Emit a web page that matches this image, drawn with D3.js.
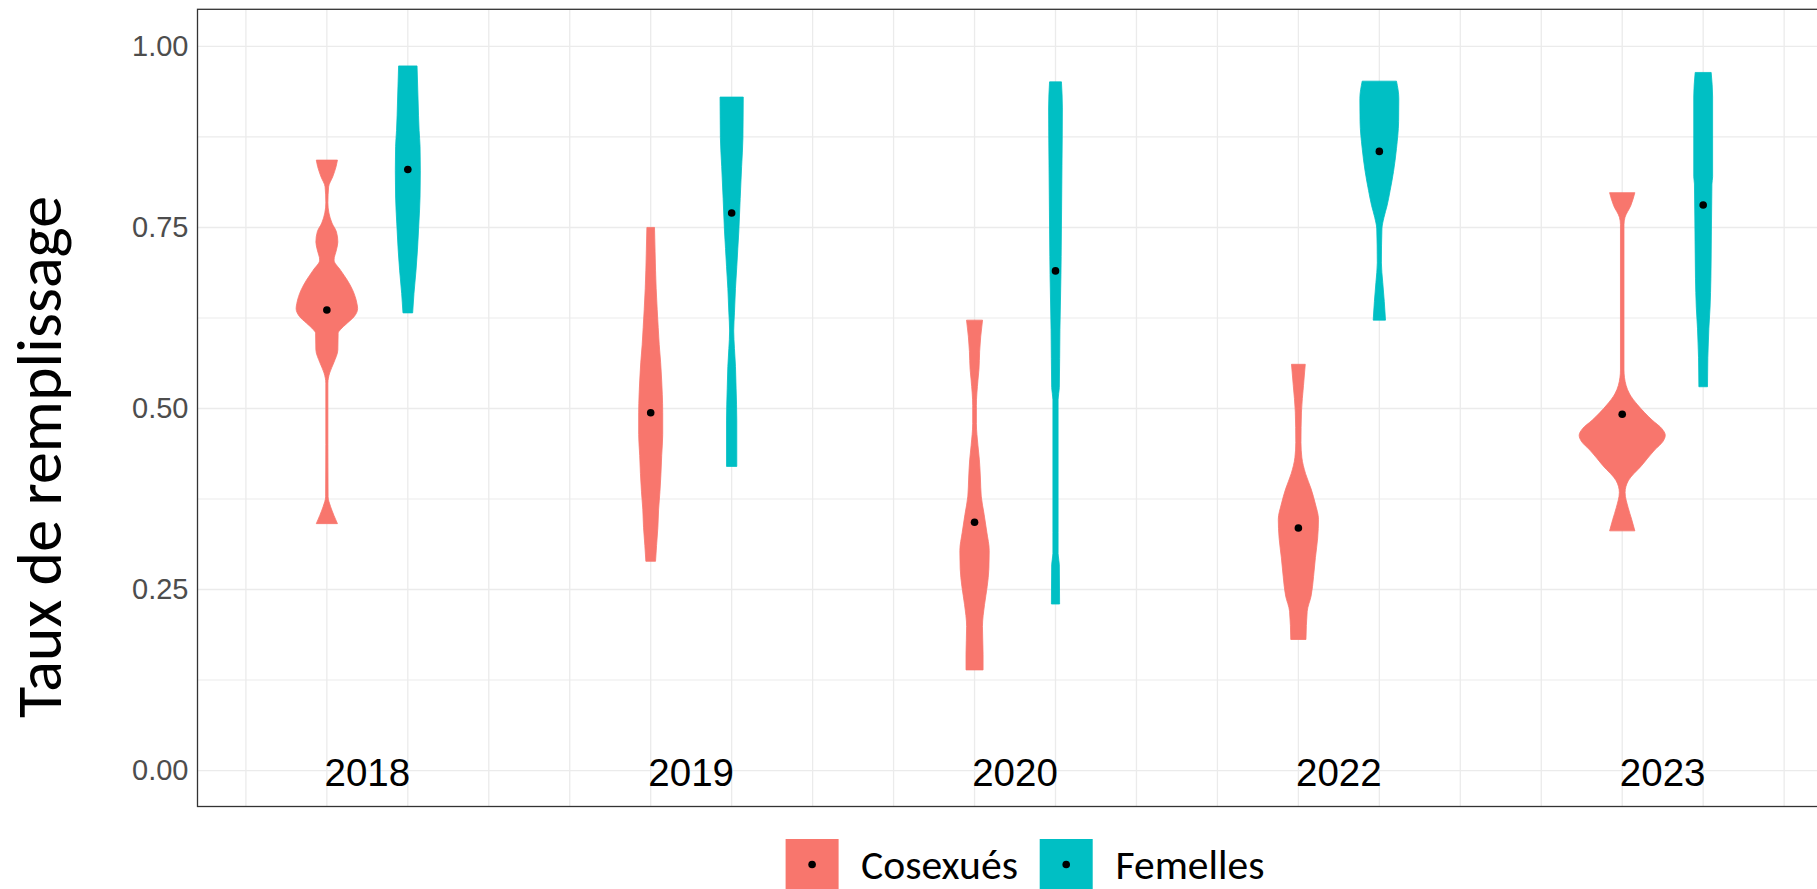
<!DOCTYPE html>
<html><head><meta charset="utf-8">
<script src="https://cdn.jsdelivr.net/npm/d3@7"></script>
<style>body{margin:0;background:#fff}</style>
</head><body>
<svg id="c" width="1817" height="889"></svg>
<script>
// ---- data ----
const years = ["2018", "2019", "2020", "2022", "2023"];
const groupNames = ["Cosexués", "Femelles"];
const groupColors = ["#F8766D", "#00BFC4"];
const meanCos = [0.636, 0.494, 0.343, 0.335, 0.492];
const meanFem = [0.830, 0.770, 0.690, 0.855, 0.781];
const yTicks = [0, 0.25, 0.5, 0.75, 1.0];
const yMinor = [0.125, 0.375, 0.625, 0.875];
// density profiles: [taux, densité]
const densCos2018 = [[0.341,2.58],[0.352,1.75],[0.365,0.88],[0.378,0.3],[0.45,0.25],[0.535,0.25],[0.549,0.68],[0.563,1.68],[0.581,2.68],[0.604,2.75],[0.609,3.33],[0.618,5.0],[0.627,6.68],[0.638,7.5],[0.645,7.33],[0.664,6.25],[0.677,5.0],[0.691,3.33],[0.705,1.75],[0.719,2.33],[0.730,2.68],[0.744,2.33],[0.756,1.25],[0.770,0.5],[0.784,0.25],[0.806,0.43],[0.820,1.43],[0.834,2.25],[0.843,2.58]];
const densFem2018 = [[0.632,1.18],[0.659,1.5],[0.691,2.0],[0.719,2.35],[0.756,2.7],[0.792,2.98],[0.829,3.05],[0.862,2.98],[0.884,2.75],[0.926,2.5],[0.973,2.25]];
const densCos2019 = [[0.289,1.18],[0.311,1.43],[0.336,1.75],[0.361,1.93],[0.385,2.25],[0.410,2.5],[0.435,2.68],[0.464,2.93],[0.494,2.93],[0.519,2.83],[0.538,2.68],[0.563,2.43],[0.588,2.08],[0.612,1.83],[0.637,1.58],[0.666,1.33],[0.691,1.18],[0.75,0.93]];
const densFem2019 = [[0.420,1.25],[0.484,1.25],[0.528,1.08],[0.558,0.93],[0.583,0.68],[0.607,0.5],[0.632,0.68],[0.666,0.93],[0.696,1.25],[0.721,1.5],[0.745,1.75],[0.790,2.08],[0.834,2.43],[0.874,2.75],[0.930,2.83]];
const densCos2020 = [[0.139,2.08],[0.16,2.08],[0.18,2.0],[0.199,1.93],[0.229,2.43],[0.254,3.08],[0.279,3.5],[0.304,3.58],[0.329,3.0],[0.354,2.33],[0.379,1.63],[0.404,1.43],[0.429,1.18],[0.449,0.83],[0.479,0.45],[0.504,0.45],[0.539,0.83],[0.554,1.08],[0.579,1.25],[0.599,1.5],[0.622,1.95]];
const densFem2020 = [[0.230,1.0],[0.284,0.93],[0.30,0.63],[0.329,0.63],[0.512,0.63],[0.529,0.93],[0.609,1.08],[0.685,1.33],[0.710,1.38],[0.835,1.58],[0.915,1.68],[0.951,1.45]];
const densCos2022 = [[0.181,1.85],[0.220,2.15],[0.241,3.1],[0.268,3.7],[0.294,4.15],[0.321,4.7],[0.347,4.9],[0.368,4.15],[0.389,3.1],[0.410,1.75],[0.432,0.85],[0.453,0.63],[0.495,0.75],[0.532,1.25],[0.561,1.68]];
const densFem2022 = [[0.622,1.5],[0.648,1.2],[0.674,0.83],[0.701,0.5],[0.748,0.63],[0.764,1.13],[0.780,1.88],[0.801,2.63],[0.827,3.45],[0.859,4.18],[0.896,4.7],[0.928,4.75],[0.952,4.18]];
const densCos2023 = [[0.331,3.08],[0.347,2.3],[0.363,1.45],[0.384,0.7],[0.400,1.45],[0.421,4.7],[0.442,7.8],[0.455,10.0],[0.463,10.5],[0.472,9.7],[0.484,7.3],[0.505,3.75],[0.520,1.8],[0.532,0.93],[0.553,0.43],[0.754,0.43],[0.764,0.68],[0.780,2.08],[0.798,3.08]];
const densFem2023 = [[0.530,1.05],[0.570,1.13],[0.610,1.38],[0.640,1.68],[0.680,1.88],[0.810,2.13],[0.820,2.3],[0.930,2.3],[0.964,1.95]];

const densCos = [densCos2018, densCos2019, densCos2020, densCos2022, densCos2023];
const densFem = [densFem2018, densFem2019, densFem2020, densFem2022, densFem2023];

// ---- layout ----
const svg = d3.select("#c");
svg.append("rect").attr("width", 1817).attr("height", 889).attr("fill", "#fff");
const P = {left: 197.5, top: 9.3, right: 1830, bottom: 806.5};
const x = d3.scaleLinear().domain([0, 19]).range([245.9, 245.9 + 19 * 80.96]);
const y = d3.scaleLinear().domain([-0.0496, 1.0512]).range([P.bottom, P.top]);
const w = d3.scaleLinear().domain([0, 10]).range([0, 41]);

svg.append("clipPath").attr("id", "pc").append("rect")
  .attr("x", P.left).attr("y", P.top).attr("width", P.right - P.left).attr("height", P.bottom - P.top);
const g = svg.append("g").attr("clip-path", "url(#pc)");

// grid
g.selectAll(".gm").data(yMinor).join("line")
  .attr("x1", P.left).attr("x2", P.right).attr("y1", d => y(d)).attr("y2", d => y(d))
  .attr("stroke", "#EBEBEB").attr("stroke-width", 1.1);
g.selectAll(".gM").data(yTicks).join("line")
  .attr("x1", P.left).attr("x2", P.right).attr("y1", d => y(d)).attr("y2", d => y(d))
  .attr("stroke", "#EBEBEB").attr("stroke-width", 1.4);
g.selectAll(".gv").data(d3.range(0, 20)).join("line")
  .attr("y1", P.top).attr("y2", P.bottom).attr("x1", d => x(d)).attr("x2", d => x(d))
  .attr("stroke", "#EBEBEB").attr("stroke-width", 1.3);

// violins
years.forEach((yr, i) => {
  [densCos[i], densFem[i]].forEach((dens, k) => {
    const cx = x(4 * i + 1 + k);
    const area = d3.area().curve(d3.curveMonotoneY)
      .y(d => y(d[0])).x0(d => cx - w(d[1])).x1(d => cx + w(d[1]));
    g.append("path").datum(dens).attr("d", area)
      .attr("fill", groupColors[k]).attr("stroke", groupColors[k]).attr("stroke-width", 0.8);
  });
});
// mean points
years.forEach((yr, i) => {
  [meanCos[i], meanFem[i]].forEach((m, k) => {
    g.append("circle").attr("cx", x(4 * i + 1 + k)).attr("cy", y(m)).attr("r", 3.8).attr("fill", "#000");
  });
});
// year labels
g.selectAll(".yl").data(years).join("text")
  .attr("x", (d, i) => x(4 * i + 1.5)).attr("y", y(0)).attr("dy", "0.41em")
  .attr("text-anchor", "middle").attr("font-family", "'Liberation Sans', Arial, sans-serif")
  .attr("font-size", 38.5).attr("fill", "#000").text(d => d);

// panel border
svg.append("rect").attr("x", P.left).attr("y", P.top).attr("width", P.right - P.left).attr("height", P.bottom - P.top)
  .attr("fill", "none").attr("stroke", "#333333").attr("stroke-width", 1.3);

// y axis
const ax = svg.append("g").attr("transform", `translate(${P.left},0)`)
  .call(d3.axisLeft(y).tickValues(yTicks).tickFormat(d3.format(".2f")).tickSize(0).tickPadding(9));
ax.select(".domain").remove();
ax.selectAll("text").attr("font-family", "'Liberation Sans', Arial, sans-serif")
  .attr("font-size", 29).attr("fill", "#4D4D4D");

function fit(sel, target) {
  const fs = parseFloat(sel.attr("font-size"));
  const len = sel.node().getComputedTextLength();
  if (len > 0) sel.attr("font-size", fs * target / len);
}
const humanist = "Carlito, Calibri, Lato, 'Open Sans', sans-serif";

// y title
const yt = svg.append("text").attr("transform", "translate(61,457) rotate(-90)")
  .attr("text-anchor", "middle").attr("font-family", humanist).attr("font-size", 60)
  .attr("fill", "#000").text("Taux de remplissage");
fit(yt, 522);

// legend
const legBoxX = [785.6, 1039.7];
const legTextX = [861, 1115.5];
const legTextW = [157, 149];
groupNames.forEach((name, k) => {
  svg.append("rect").attr("x", legBoxX[k]).attr("y", 839).attr("width", 53).attr("height", 53)
    .attr("fill", groupColors[k]);
  svg.append("circle").attr("cx", legBoxX[k] + 26.5).attr("cy", 864.5).attr("r", 3.8).attr("fill", "#000");
  const t = svg.append("text").attr("x", legTextX[k]).attr("y", 864).attr("dy", "0.36em")
    .attr("font-family", humanist).attr("font-size", 42).attr("fill", "#000").text(name);
  fit(t, legTextW[k]);
});
</script>
</body></html>
